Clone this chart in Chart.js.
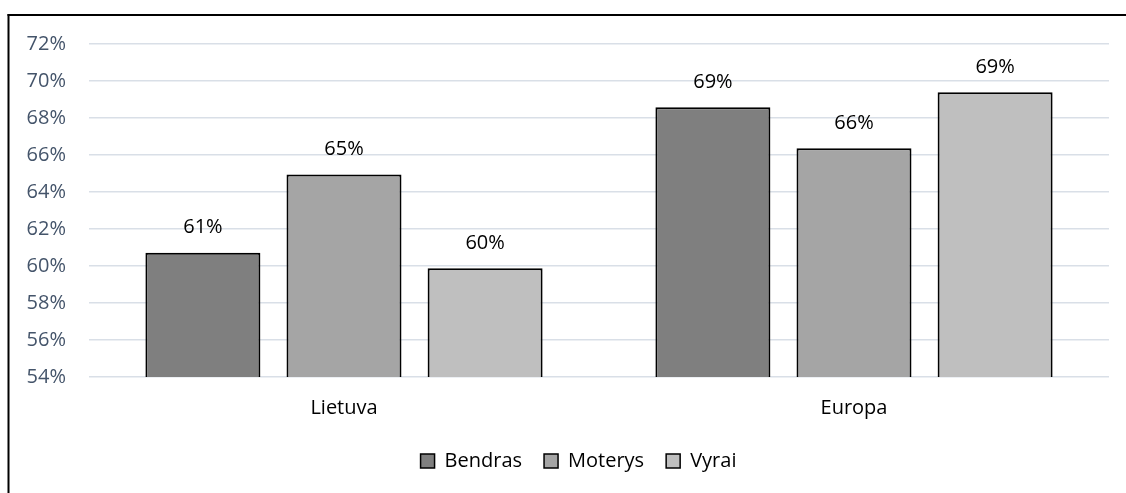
<!DOCTYPE html>
<html lang="lt">
<head>
<meta charset="utf-8">
<title>Bendras, moterų ir vyrų rodiklis</title>
<script src="https://cdn.jsdelivr.net/npm/chart.js@4.4.1/dist/chart.umd.min.js"></script>
<style>
  html, body { margin: 0; padding: 0; background: #ffffff; }
  #wrap { position: relative; width: 1126px; height: 493px; }
</style>
</head>
<body>
<div id="wrap"><canvas id="chart" width="1126" height="493"></canvas></div>
<script>
// Categories and series (percent)
const categories = ['Lietuva', 'Europa'];
const seriesNames = ['Bendras', 'Moterys', 'Vyrai'];
const bendras = [60.72, 68.58];
const moterys = [64.94, 66.36];
const vyrai = [59.88, 69.39];
const seriesColors = ['#7f7f7f', '#a5a5a5', '#bfbfbf'];

// Axis range and tick step
const yMin = 54;
const yMax = 72;
const yStep = 2;

const FONT = '"Open Sans", "Liberation Sans", sans-serif';

// White page with the black frame along the top and left edges
const framePlugin = {
  id: 'frame',
  beforeDraw(chart) {
    const ctx = chart.ctx;
    ctx.save();
    ctx.fillStyle = '#ffffff';
    ctx.fillRect(0, 0, chart.width, chart.height);
    ctx.fillStyle = '#000000';
    ctx.fillRect(7.5, 14, chart.width - 7.5, 2);
    ctx.fillRect(7.5, 14, 2, chart.height - 14);
    ctx.restore();
  }
};

// Nudge the legend row a little to the right of the page centre
const legendOffset = {
  id: 'legendOffset',
  afterLayout(chart) {
    if (chart.legend) chart.legend.left += 28;
  }
};

// Rounded value labels above each bar
const valueLabels = {
  id: 'valueLabels',
  afterDatasetsDraw(chart) {
    const ctx = chart.ctx;
    ctx.save();
    ctx.font = '20px ' + FONT;
    ctx.fillStyle = '#000000';
    ctx.textAlign = 'center';
    ctx.textBaseline = 'middle';
    chart.data.datasets.forEach((ds, di) => {
      const meta = chart.getDatasetMeta(di);
      meta.data.forEach((bar, i) => {
        const v = ds.data[i];
        ctx.fillText(Math.round(v) + '%', bar.x, bar.y - 25);
      });
    });
    ctx.restore();
  }
};

const datasets = [bendras, moterys, vyrai].map((values, k) => ({
  label: seriesNames[k],
  data: values,
  backgroundColor: seriesColors[k],
  borderColor: '#000000',
  borderWidth: 2,
  categoryPercentage: 0.83,
  barPercentage: 0.815
}));

new Chart(document.getElementById('chart'), {
  type: 'bar',
  data: { labels: categories, datasets },
  plugins: [framePlugin, legendOffset, valueLabels],
  options: {
    responsive: false,
    animation: false,
    events: [],
    layout: { padding: { top: 44, right: 17, left: 20, bottom: 12 } },
    plugins: {
      tooltip: { enabled: false },
      legend: {
        position: 'bottom',
        labels: {
          color: '#000000',
          font: { family: FONT, size: 20 },
          boxWidth: 14,
          boxHeight: 14,
          padding: 22,
          generateLabels(chart) {
            return chart.data.datasets.map((ds, i) => ({
              text: ds.label,
              fillStyle: ds.backgroundColor,
              strokeStyle: '#000000',
              lineWidth: 1.5,
              fontColor: '#000000',
              hidden: false,
              datasetIndex: i
            }));
          }
        }
      }
    },
    scales: {
      x: {
        grid: { display: false, drawTicks: false },
        border: { display: false },
        ticks: { color: '#000000', font: { family: FONT, size: 20 }, padding: 19 },
        afterFit(scale) { scale.height = 52; }
      },
      y: {
        min: yMin,
        max: yMax,
        grid: { color: '#d9dfe7', lineWidth: 1.5, drawTicks: false },
        border: { display: false },
        ticks: {
          stepSize: yStep,
          color: '#44546a',
          font: { family: FONT, size: 20 },
          padding: 23,
          callback: v => v + '%'
        },
        afterFit(scale) { scale.width = 69; }
      }
    }
  }
});
</script>
</body>
</html>
